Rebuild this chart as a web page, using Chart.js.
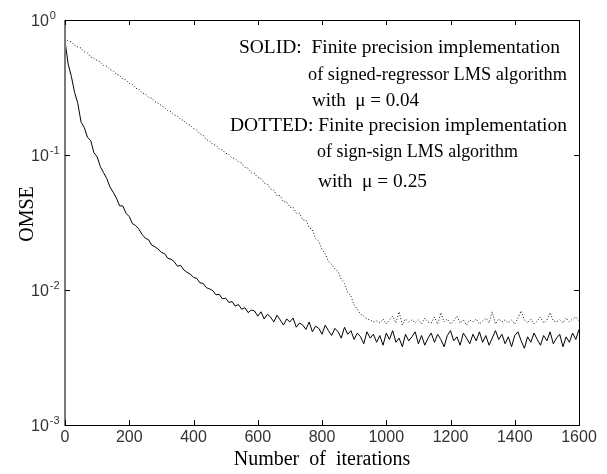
<!DOCTYPE html>
<html>
<head>
<meta charset="utf-8">
<script src="https://cdn.jsdelivr.net/npm/chart.js@4.4.1/dist/chart.umd.min.js"></script>
<style>
  html, body { margin: 0; padding: 0; background: #fff; }
</style>
</head>
<body>
<canvas id="omseChart" width="607" height="474"></canvas>
<script>
// Iterations are sampled every 10 steps (0 .. 1600)
const iterationStep = 10;

// Signed-regressor LMS, mu = 0.04 (solid)
const solidOmse = [
  0.70, 0.47, 0.38, 0.29, 0.24, 0.175, 0.16, 0.135, 0.128, 0.104,
  0.097, 0.082, 0.074, 0.067, 0.058, 0.053, 0.048, 0.042, 0.042, 0.037,
  0.035, 0.031, 0.030, 0.0282, 0.0258, 0.0242, 0.0236, 0.0215, 0.0209, 0.0201,
  0.0190, 0.0186, 0.0172, 0.0169, 0.0162, 0.0150, 0.0152, 0.0141, 0.0135, 0.0131,
  0.0124, 0.0122, 0.0113, 0.0112, 0.0104, 0.0102, 0.0099, 0.0092, 0.0093, 0.0086,
  0.0087, 0.0081, 0.0082, 0.0076, 0.0078, 0.0072, 0.0074, 0.0068, 0.0071, 0.0070,
  0.0064, 0.0069, 0.0061, 0.0066, 0.0063, 0.0058, 0.0065, 0.0060, 0.0055, 0.0061,
  0.0058, 0.0062, 0.0053, 0.0057, 0.0055, 0.0051, 0.0058, 0.0049, 0.0054, 0.0052,
  0.0047, 0.0055, 0.0050, 0.0046, 0.0052, 0.0049, 0.0044, 0.0053, 0.0047, 0.0050,
  0.0043, 0.0048, 0.0045, 0.0040, 0.0049, 0.0044, 0.0047, 0.0041, 0.0046, 0.0039,
  0.0048, 0.0043, 0.0050, 0.0041, 0.0044, 0.0038, 0.0047, 0.0042, 0.0045, 0.0049,
  0.0040, 0.0046, 0.0039, 0.0044, 0.0048, 0.0041, 0.0047, 0.0043, 0.0038, 0.0046,
  0.0050, 0.0042, 0.0045, 0.0039, 0.0048, 0.0044, 0.0040, 0.0047, 0.0042, 0.0049,
  0.0041, 0.0046, 0.0039, 0.0044, 0.0050, 0.0043, 0.0047, 0.0040, 0.0045, 0.0038,
  0.0046, 0.0049, 0.0042, 0.0037, 0.0045, 0.0041, 0.0048, 0.0043, 0.0039, 0.0046,
  0.0042, 0.0049, 0.0040, 0.0044, 0.0047, 0.0038, 0.0045, 0.0041, 0.0048, 0.0043,
  0.0051
];

// Sign-sign LMS, mu = 0.25 (dotted)
const dottedOmse = [
  0.73, 0.70, 0.69, 0.65, 0.63, 0.62, 0.58, 0.57, 0.53, 0.52,
  0.50, 0.49, 0.46, 0.455, 0.43, 0.42, 0.395, 0.39, 0.365, 0.36,
  0.34, 0.333, 0.312, 0.308, 0.288, 0.283, 0.267, 0.263, 0.248, 0.242,
  0.232, 0.224, 0.213, 0.209, 0.198, 0.194, 0.183, 0.18, 0.169, 0.166,
  0.157, 0.153, 0.144, 0.140, 0.130, 0.127, 0.120, 0.118, 0.111, 0.109,
  0.103, 0.101, 0.095, 0.094, 0.089, 0.087, 0.081, 0.080, 0.074, 0.073,
  0.068, 0.067, 0.062, 0.061, 0.056, 0.055, 0.050, 0.050, 0.045, 0.045,
  0.041, 0.041, 0.037, 0.037, 0.033, 0.033, 0.029, 0.028, 0.024, 0.023,
  0.020, 0.0185, 0.0163, 0.0155, 0.0143, 0.0137, 0.0120, 0.0112, 0.0096, 0.0090,
  0.0078, 0.0072, 0.0066, 0.0064, 0.0061, 0.0060, 0.0058, 0.0059, 0.0057, 0.0061,
  0.0056, 0.0060, 0.0064, 0.0057, 0.0069, 0.0055, 0.0061, 0.0058, 0.0060, 0.0057,
  0.0060, 0.0056, 0.0062, 0.0058, 0.0057, 0.0063, 0.0056, 0.0068, 0.0058, 0.0061,
  0.0056, 0.0059, 0.0064, 0.0057, 0.0060, 0.0055, 0.0060, 0.0058, 0.0061, 0.0056,
  0.0059, 0.0062, 0.0057, 0.0069, 0.0056, 0.0061, 0.0058, 0.0060, 0.0057, 0.0060,
  0.0056, 0.0062, 0.0070, 0.0060, 0.0057, 0.0061, 0.0056, 0.0059, 0.0063, 0.0057,
  0.0060, 0.0068, 0.0059, 0.0058, 0.0060, 0.0057, 0.0062, 0.0058, 0.0061, 0.0063,
  0.0059
];

const xTicks = [0, 200, 400, 600, 800, 1000, 1200, 1400, 1600];
const yDecades = [0.001, 0.01, 0.1, 1];
const yExponents = ['-3', '-2', '-1', '0'];

const annotationLines = [
  'SOLID:  Finite precision implementation',
  'of signed-regressor LMS algorithm',
  'with  \u03bc = 0.04',
  'DOTTED: Finite precision implementation',
  'of sign-sign LMS algorithm',
  'with  \u03bc = 0.25'
];

const toPoints = arr => arr.map((v, i) => ({ x: i * iterationStep, y: v }));

// Boxed frame with inward ticks, power-of-ten labels, and the text block
const framePlugin = {
    id: 'frame',
    afterDraw(chart) {
        const ctx = chart.ctx;
        const a = chart.chartArea;
        const xs = chart.scales.x;
        const ys = chart.scales.y;
        const tl = 5;
        const L = Math.round(a.left), R = Math.round(a.right);
        const T = Math.round(a.top), B = Math.round(a.bottom);
        ctx.save();
        // box
        ctx.fillStyle = '#000';
        ctx.fillRect(L, T, R - L + 1, 1);
        ctx.fillRect(L, B, R - L + 1, 1);
        ctx.fillRect(R, T, 1, B - T + 1);
        ctx.fillStyle = '#7a7a7a';
        ctx.fillRect(L - 1, T, 2, B - T + 1);
        // ticks
        ctx.fillStyle = '#000';
        xTicks.forEach(v => {
            const px = Math.round(xs.getPixelForValue(v));
            ctx.fillRect(px, B - tl, 1, tl);
            ctx.fillRect(px, T, 1, tl);
        });
        yDecades.forEach(v => {
            const py = Math.round(ys.getPixelForValue(v));
            ctx.fillRect(L, py, tl, 1);
            ctx.fillRect(R - tl, py, tl, 1);
        });
        // y labels 10^n
        ctx.fillStyle = '#333';
        ctx.textBaseline = 'alphabetic';
        ctx.textAlign = 'left';
        yDecades.forEach((v, i) => {
            const py = ys.getPixelForValue(v);
            ctx.font = '16px "Liberation Sans", Arial, sans-serif';
            ctx.fillText('10', 31, py + 6);
            const w = ctx.measureText('10').width;
            ctx.font = '11px "Liberation Sans", Arial, sans-serif';
            ctx.fillText(yExponents[i], 31 + w + 1, py - 1);
        });
        // y title, drawn here so it can sit where the reference has it
        ctx.fillStyle = '#000';
        ctx.font = '20px "Liberation Serif", "Times New Roman", serif';
        ctx.save();
        ctx.translate(33, 214);
        ctx.rotate(-Math.PI / 2);
        ctx.textAlign = 'center';
        ctx.fillText('OMSE', 0, 0);
        ctx.restore();
        // annotation block, each line stretched to the reference width
        ctx.font = '18px "Liberation Serif", "Times New Roman", serif';
        const lineX = [239, 308, 312, 230, 317, 318];
        const lineY = [53, 80, 106, 131, 157, 187];
        const lineW = [321, 259, 107, 337, 201, 109];
        annotationLines.forEach((t, i) => {
            const w = ctx.measureText(t).width;
            ctx.save();
            ctx.translate(lineX[i], lineY[i]);
            ctx.scale(lineW[i] / w, 1);
            ctx.fillText(t, 0, 0);
            ctx.restore();
        });
        ctx.restore();
    }
};

new Chart(document.getElementById('omseChart'), {
    type: 'line',
    data: {
        datasets: [
            {
                label: 'SOLID',
                data: toPoints(solidOmse),
                borderColor: '#000',
                borderWidth: 1,
                pointRadius: 0,
                tension: 0
            },
            {
                label: 'DOTTED',
                data: toPoints(dottedOmse),
                borderColor: '#111',
                borderWidth: 1,
                borderDash: [1, 2],
                pointRadius: 0,
                tension: 0
            }
        ]
    },
    options: {
        responsive: false,
        devicePixelRatio: 1,
        animation: false,
        layout: { padding: { top: 20, right: 28, bottom: 0, left: 0 } },
        plugins: { legend: { display: false }, tooltip: { enabled: false } },
        scales: {
            x: {
                type: 'linear',
                min: 0,
                max: 1600,
                afterBuildTicks: s => { s.ticks = xTicks.map(v => ({ value: v })); },
                afterFit: s => { s.height = 49; },
                grid: { display: false, drawTicks: false },
                border: { display: false },
                ticks: {
                    padding: 3,
                    color: '#333',
                    font: { family: '"Liberation Sans", Arial, sans-serif', size: 16 },
                    maxRotation: 0,
                    callback: v => String(v)
                },
                title: {
                    display: true,
                    text: 'Number  of  iterations',
                    color: '#000',
                    font: { family: '"Liberation Serif", "Times New Roman", serif', size: 20 },
                    padding: { top: 0, bottom: 2 }
                }
            },
            y: {
                type: 'logarithmic',
                min: 0.001,
                max: 1,
                afterBuildTicks: s => { s.ticks = yDecades.map(v => ({ value: v })); },
                afterFit: s => { s.width = 65; },
                grid: { display: false, drawTicks: false },
                border: { display: false },
                ticks: { display: false }
            }
        }
    },
    plugins: [framePlugin]
});
</script>
</body>
</html>
